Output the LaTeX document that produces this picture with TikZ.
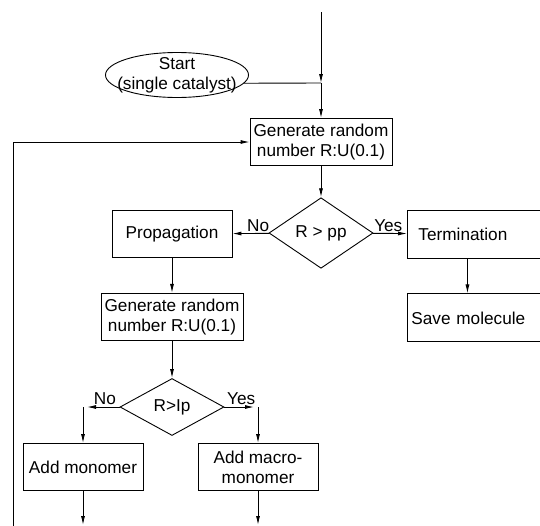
\documentclass[tikz,border=0pt]{standalone}
\usepackage{fontspec}
\setmainfont{Liberation Sans}
\usepackage{tikz}
\usetikzlibrary{shapes, arrows.meta, positioning}

\begin{document}
\begin{tikzpicture}[
    x=1pt, y=-1pt,
    font=\fontsize{17.2}{20}\selectfont,
    node distance=35pt and 35pt,
    proc/.style={rectangle, draw, line width=0.9pt, minimum width=142pt, minimum height=47pt, align=center, inner sep=2pt},
    smallproc/.style={rectangle, draw, line width=0.9pt, minimum width=120pt, minimum height=47pt, align=center, inner sep=2pt},
    endbox/.style={rectangle, draw, line width=0.9pt, minimum height=48pt, align=left},
    decision/.style={diamond, draw, line width=0.9pt, minimum width=104pt, minimum height=57pt, inner sep=1pt},
    startnode/.style={ellipse, draw, line width=0.9pt, minimum width=143pt, minimum height=45pt, inner xsep=-12pt, inner ysep=-4pt, align=center},
    line/.style={draw, line width=0.9pt},
    arrow/.style={line, -{Latex[length=9pt,width=4pt]}},
    lbl/.style={above, inner sep=1.5pt}
]
\clip (0,0) rectangle (540,525);

% Start
\node[startnode] (start) at (177,75) {Start\\(single catalyst)};
\coordinate (top) at (321,12);
\coordinate (junc) at (321,83);

% First random number and decision
\node[proc] (gen1) at (321,142) {Generate random\\number R:U(0.1)};
\node[decision] (dec1) at (321,233) {R > pp};
\node[smallproc] (prop) at (172,234) {Propagation};
\node[endbox, anchor=west, text width=130pt, inner xsep=11pt] (term) at (407,234) {Termination};
\node[endbox, anchor=west, text width=140pt, inner xsep=4pt, below=35pt of term.south west, anchor=north west] (save) {Save molecule};

% Second random number and decision
\node[proc, below=35pt of prop] (gen2) {Generate random\\number R:U(0.1)};
\node[decision] (dec2) at (172,407) {R>Ip};
\node[smallproc] (addmono) at (83,467) {Add monomer};
\node[smallproc] (addmacro) at (258,467) {Add macro-\\monomer};
\coordinate (bend1) at (83,407);
\coordinate (bend2) at (258,407);
\coordinate (loop) at (13,530);
\coordinate (out) at (0,525);

% Draw lines
\draw[arrow] (top) -- (junc);
\draw[line] (start.-7) -- (junc);
\draw[arrow] (junc) -- (gen1);
\draw[arrow] (loop) |- (gen1.west);
\draw[arrow] (gen1) -- (dec1);
\draw[arrow] (dec1) -- node[lbl, pos=0.3]{No} (prop);
\draw[arrow] (dec1) -- node[lbl, pos=0.45]{Yes} (term);
\draw[arrow] ([xshift=-16pt]term.south) -- ([xshift=-16pt]term.south |- save.north);
\draw[arrow] (prop) -- (gen2);
\draw[arrow] (gen2) -- (dec2);
\draw[arrow, shorten >=4pt] (dec2.west) -- node[lbl, pos=0.4]{No} (bend1);
\draw[arrow] (bend1) -- (addmono);
\draw[arrow, shorten >=4pt] (dec2.east) -- node[lbl, pos=0.5]{Yes} (bend2);
\draw[arrow] (bend2) -- (addmacro);
\draw[arrow] (addmono) -- (addmono.south |- out);
\draw[arrow] (addmacro) -- (addmacro.south |- out);
\end{tikzpicture}
\end{document}
